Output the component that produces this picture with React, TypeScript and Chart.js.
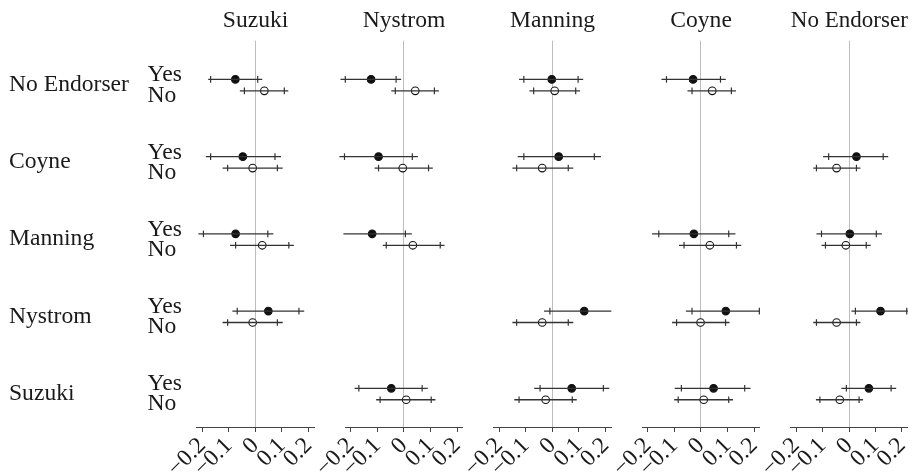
import React, { useEffect, useRef } from "react";
import { Chart, registerables } from "chart.js";

Chart.register(...registerables);

// ---------- data ----------
const columns = ["Suzuki", "Nystrom", "Manning", "Coyne", "No Endorser"];
const rows = ["No Endorser", "Coyne", "Manning", "Nystrom", "Suzuki"];
const groups = ["Yes", "No"];
const xTickValues = [-0.2, -0.1, 0, 0.1, 0.2];
const xTickLabels = ["−0.2", "−0.1", "0", "0.1", "0.2"];

// indexed [row][column]; null = no panel content
const yesEst = [
  [-0.075, -0.123, -0.002, -0.029, null],
  [-0.047, -0.095, 0.024, null, 0.028],
  [-0.074, -0.119, null, -0.026, 0.003],
  [0.049, null, 0.12, 0.094, 0.119],
  [null, -0.047, 0.073, 0.048, 0.075],
];
const yesTickLo = [
  [-0.168, -0.22, -0.107, -0.129, null],
  [-0.168, -0.223, -0.107, null, -0.077],
  [-0.195, null, null, -0.158, -0.104],
  [-0.068, null, -0.009, -0.033, 0.024],
  [null, -0.169, -0.046, -0.073, -0.01],
];
const yesTickHi = [
  [0.009, -0.029, 0.097, 0.074, null],
  [0.074, 0.032, 0.158, null, 0.129],
  [0.047, 0.006, null, 0.105, 0.103],
  [0.164, null, null, 0.22, 0.218],
  [null, 0.069, 0.192, 0.165, 0.159],
];
const yesLineLo = [
  [-0.177, -0.238, -0.125, -0.148, null],
  [-0.186, -0.242, -0.13, null, -0.098],
  [-0.214, -0.227, null, -0.183, -0.123],
  [-0.086, null, -0.031, -0.056, 0.009],
  [null, -0.185, -0.068, -0.098, -0.029],
];
const yesLineHi = [
  [0.026, -0.01, 0.116, 0.094, null],
  [0.097, 0.053, 0.183, null, 0.148],
  [0.068, 0.03, null, 0.13, 0.124],
  [0.184, null, 0.222, 0.222, 0.222],
  [null, 0.09, 0.214, 0.187, 0.178],
];

const noEst = [
  [0.034, 0.043, 0.009, 0.043, null],
  [-0.01, -0.004, -0.038, null, -0.047],
  [0.026, 0.034, null, 0.034, -0.012],
  [-0.01, null, -0.038, -0.001, -0.047],
  [null, 0.009, -0.025, 0.011, -0.035],
];
const noTickLo = [
  [-0.041, -0.032, -0.07, -0.033, null],
  [-0.104, -0.095, -0.134, null, -0.123],
  [-0.074, -0.066, null, -0.063, -0.089],
  [-0.104, null, -0.134, -0.091, -0.123],
  [null, -0.089, -0.125, -0.085, -0.11],
];
const noTickHi = [
  [0.109, 0.115, 0.088, 0.115, null],
  [0.083, 0.093, 0.06, null, 0.028],
  [0.126, 0.137, null, 0.134, 0.065],
  [0.083, null, 0.06, 0.093, 0.028],
  [null, 0.103, 0.075, 0.105, 0.038],
];
const noLineLo = [
  [-0.058, -0.047, -0.086, -0.05, null],
  [-0.123, -0.11, -0.15, null, -0.135],
  [-0.095, -0.079, null, -0.082, -0.104],
  [-0.123, null, -0.15, -0.108, -0.135],
  [null, -0.104, -0.143, -0.1, -0.125],
];
const noLineHi = [
  [0.124, 0.132, 0.104, 0.132, null],
  [0.103, 0.109, 0.079, null, 0.043],
  [0.145, 0.153, null, 0.152, 0.082],
  [0.103, null, 0.079, 0.108, 0.043],
  [null, 0.119, 0.092, 0.121, 0.053],
];

// ---------- layout / style ----------
const W = 913;
const H = 475;
const FONT = "'Liberation Serif', 'Times New Roman', serif";
const FONT_SIZE = 23.6;
const X_MIN = -0.22;
const X_MAX = 0.222;
const PX_PER_UNIT = 266;
const FIRST_ZERO = 255.3;
const COL_STEP = 148.5;
const X_AXIS_H = 48;
const Y_MIN = -0.575;
const Y_MAX = 4.427;
const PAIR_OFFSET = 0.074;
const ROW_LABEL_LEFT = 9;
const YN_LABEL_LEFT = 147.5;
const ROW_LABEL_SHIFT = -0.005;
const YES_LABEL_SHIFT = -0.128;
const NO_LABEL_SHIFT = 0.133;
const INK = "#1a1a1a";
const LINE = "#333333";

const sets = [
  { est: yesEst, tLo: yesTickLo, tHi: yesTickHi, lLo: yesLineLo, lHi: yesLineHi, fill: "#111111" },
  { est: noEst, tLo: noTickLo, tHi: noTickHi, lLo: noLineLo, lHi: noLineHi, fill: "#ffffff" },
];

function ColumnChart({ col }: { col: number }) {
  const ref = useRef<HTMLCanvasElement | null>(null);

  useEffect(() => {
    if (!ref.current) return;
    const datasets: any[] = [];
    rows.forEach((_, r) => {
      groups.forEach((g, gi) => {
        const s = sets[gi];
        const est = s.est[r][col];
        if (est == null) return;
        const y = r + (gi === 0 ? -PAIR_OFFSET : PAIR_OFFSET);
        datasets.push({
          label: `${rows[r]} ${g} interval`,
          data: [
            { x: s.lLo[r][col], y },
            { x: s.lHi[r][col], y },
          ],
          showLine: true,
          borderColor: LINE,
          borderWidth: 1.3,
          pointRadius: 0,
          clip: false,
        });
        const tickPts = [s.tLo[r][col], s.tHi[r][col]]
          .filter((v) => v != null)
          .map((v) => ({ x: v, y }));
        datasets.push({
          label: `${rows[r]} ${g} ticks`,
          data: tickPts,
          showLine: false,
          pointStyle: "line",
          rotation: 90,
          pointRadius: 3.3,
          borderColor: LINE,
          borderWidth: 1.2,
          clip: false,
        });
        datasets.push({
          label: `${rows[r]} ${g}`,
          data: [{ x: est, y }],
          showLine: false,
          pointStyle: "circle",
          pointRadius: 3.8,
          backgroundColor: s.fill,
          borderColor: "#111111",
          borderWidth: 1.1,
          clip: false,
        });
      });
    });

    const zero = FIRST_ZERO + COL_STEP * col;
    const areaLeft = zero + X_MIN * PX_PER_UNIT;
    const areaRight = zero + X_MAX * PX_PER_UNIT;

    const scales: any = {
      x: {
        type: "linear",
        min: X_MIN,
        max: X_MAX,
        afterBuildTicks: (scale: any) => {
          scale.ticks = xTickValues.map((v) => ({ value: v }));
        },
        afterFit: (scale: any) => {
          scale.height = X_AXIS_H;
          scale.paddingLeft = 0;
          scale.paddingRight = 0;
        },
        ticks: {
          autoSkip: false,
          minRotation: 45,
          maxRotation: 45,
          padding: 0,
          color: INK,
          font: { family: FONT, size: FONT_SIZE },
          callback: (v: number) => {
            const i = xTickValues.findIndex((t) => Math.abs(t - v) < 1e-9);
            return i >= 0 ? xTickLabels[i] : "";
          },
        },
        grid: {
          drawOnChartArea: true,
          drawTicks: true,
          tickLength: 5,
          tickColor: "#444444",
          tickWidth: 1,
          color: (ctx: any) =>
            ctx.tick && Math.abs(ctx.tick.value) < 1e-9 ? "#bdbdbd" : "rgba(0,0,0,0)",
          lineWidth: 1,
        },
        border: { display: true, color: "#444444", width: 1 },
      },
      y: {
        type: "linear",
        display: false,
        min: Y_MIN,
        max: Y_MAX,
        reverse: true,
      },
    };

    let padLeft = areaLeft;
    if (col === 0) {
      padLeft = ROW_LABEL_LEFT;
      scales.yRows = {
        type: "linear",
        position: "left",
        weight: 10,
        min: Y_MIN,
        max: Y_MAX,
        reverse: true,
        afterBuildTicks: (scale: any) => {
          scale.ticks = rows.map((_, i) => ({ value: i + ROW_LABEL_SHIFT }));
        },
        afterFit: (scale: any) => {
          scale.width = YN_LABEL_LEFT - ROW_LABEL_LEFT;
          scale.paddingTop = 0;
          scale.paddingBottom = 0;
        },
        grid: { display: false, drawTicks: false },
        border: { display: false },
        ticks: {
          autoSkip: false,
          crossAlign: "far",
          padding: 0,
          color: INK,
          font: { family: FONT, size: FONT_SIZE },
          callback: (v: number) => rows[Math.round(v)] ?? "",
        },
      };
      scales.yYesNo = {
        type: "linear",
        position: "left",
        weight: 5,
        min: Y_MIN,
        max: Y_MAX,
        reverse: true,
        afterBuildTicks: (scale: any) => {
          const t: any[] = [];
          rows.forEach((_, i) => {
            t.push({ value: i + YES_LABEL_SHIFT });
            t.push({ value: i + NO_LABEL_SHIFT });
          });
          scale.ticks = t;
        },
        afterFit: (scale: any) => {
          scale.width = areaLeft - YN_LABEL_LEFT;
          scale.paddingTop = 0;
          scale.paddingBottom = 0;
        },
        grid: { display: false, drawTicks: false },
        border: { display: false },
        ticks: {
          autoSkip: false,
          crossAlign: "far",
          padding: 0,
          color: INK,
          font: { family: FONT, size: FONT_SIZE },
          callback: (v: number) => (v - Math.round(v) < 0 ? groups[0] : groups[1]),
        },
      };
    }

    const chart = new Chart(ref.current, {
      type: "scatter",
      data: { datasets },
      options: {
        animation: false,
        responsive: false,
        events: [],
        layout: {
          padding: { left: padLeft, right: W - areaRight, top: 0, bottom: 0 },
        },
        scales,
        plugins: {
          legend: { display: false },
          tooltip: { enabled: false },
          title: {
            display: true,
            text: columns[col],
            fullSize: false,
            color: INK,
            font: { family: FONT, size: FONT_SIZE, weight: "normal", lineHeight: 1.2 },
            padding: { top: 7, bottom: 5.4 },
          },
        },
      } as any,
    });
    return () => chart.destroy();
  }, [col]);

  return (
    <canvas
      ref={ref}
      width={W}
      height={H}
      style={{ position: "absolute", left: 0, top: 0, width: W, height: H }}
    />
  );
}

export default function App() {
  return (
    <div
      style={{
        position: "fixed",
        left: 0,
        top: 0,
        width: W,
        height: H,
        background: "#ffffff",
        overflow: "hidden",
      }}
    >
      {columns.map((_, c) => (
        <ColumnChart key={c} col={c} />
      ))}
    </div>
  );
}
